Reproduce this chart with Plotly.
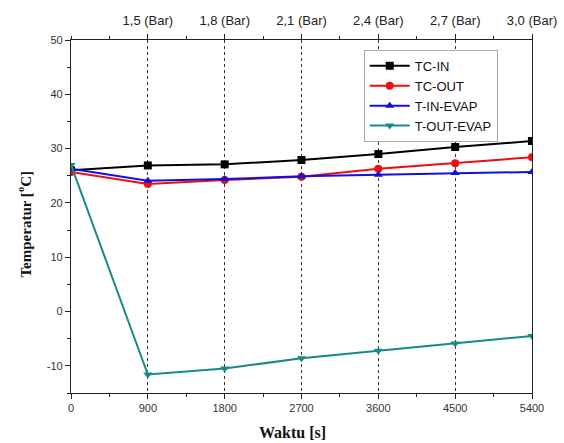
import plotly.graph_objects as go

time_s = [0, 900, 1800, 2700, 3600, 4500, 5400]
pressure_labels = ["1,5 (Bar)", "1,8 (Bar)", "2,1 (Bar)", "2,4 (Bar)", "2,7 (Bar)", "3,0 (Bar)"]
pressure_ticks = [900, 1800, 2700, 3600, 4500, 5400]
temp_ticks = [-10, 0, 10, 20, 30, 40, 50]
tc_in = [26.0, 26.9, 27.1, 27.9, 29.0, 30.3, 31.4]
tc_out = [25.7, 23.5, 24.2, 24.8, 26.3, 27.3, 28.4]
t_in_evap = [26.3, 24.1, 24.4, 24.9, 25.2, 25.5, 25.7]
t_out_evap = [27.0, -11.6, -10.5, -8.6, -7.2, -5.9, -4.5]

series = [
    ("TC-IN", tc_in, "#000000", "square"),
    ("TC-OUT", tc_out, "#e81010", "circle"),
    ("T-IN-EVAP", t_in_evap, "#1010e0", "triangle-up"),
    ("T-OUT-EVAP", t_out_evap, "#168a8a", "triangle-down"),
]

fig = go.Figure()
for name, ys, col, sym in series:
    fig.add_trace(go.Scatter(
        x=time_s, y=ys, name=name, mode="lines+markers",
        line=dict(color=col, width=2),
        marker=dict(symbol=sym, size=8, color=col),
    ))
fig.add_trace(go.Scatter(x=[0, 5400], y=[None, None], xaxis="x2", showlegend=False, hoverinfo="skip"))

serif = "Liberation Serif, Times New Roman, serif"
fig.update_layout(
    width=564, height=443,
    margin=dict(l=71, r=32, t=40, b=50),
    paper_bgcolor="white", plot_bgcolor="white",
    font=dict(family="Liberation Sans, Arial, sans-serif", color="#222"),
    xaxis=dict(
        range=[0, 5400], tickvals=time_s, ticktext=[str(t) for t in time_s],
        ticks="outside", ticklen=5, tickcolor="#222", automargin=False,
        minor=dict(ticks="outside", dtick=450, tick0=0, ticklen=3, tickcolor="#222", showgrid=False),
        showline=True, linecolor="#222", linewidth=1.2,
        showgrid=True, gridcolor="#333", griddash="dot", gridwidth=1,
        zeroline=False, tickfont=dict(size=11, color="#333"),
    ),
    xaxis2=dict(
        range=[0, 5400], overlaying="x", side="top", anchor="y", automargin=False,
        tickvals=pressure_ticks, ticktext=pressure_labels,
        ticks="outside", ticklen=5, tickcolor="#222", ticklabelstandoff=4,
        minor=dict(ticks="outside", dtick=450, tick0=0, ticklen=3, tickcolor="#222", showgrid=False),
        showline=True, linecolor="#222", linewidth=1.2, showgrid=False, zeroline=False,
        tickfont=dict(size=13, color="#222"),
    ),
    yaxis=dict(
        range=[-15, 50], tickvals=temp_ticks, ticktext=[str(t) for t in temp_ticks],
        ticks="outside", ticklen=5, tickcolor="#222", automargin=False,
        minor=dict(ticks="outside", dtick=5, tick0=0, ticklen=3, tickcolor="#222", showgrid=False),
        showline=True, linecolor="#222", linewidth=1.2, mirror=True,
        showgrid=False, zeroline=False, tickfont=dict(size=11, color="#333"),
    ),
    legend=dict(
        x=0.635, y=0.972, xanchor="left", yanchor="top",
        bgcolor="white", bordercolor="#aaa", borderwidth=1,
        font=dict(size=13, color="#111"), tracegroupgap=0, itemwidth=40,
    ),
    annotations=[
        dict(text="<b>Waktu [s]</b>", xref="paper", yref="paper", x=0.481, y=-0.111,
             xanchor="center", yanchor="middle", showarrow=False,
             font=dict(family=serif, size=16, color="#111")),
        dict(text="<b>Temperatur [<sup>o</sup>C]</b>", xref="paper", yref="paper", x=-0.102, y=0.48,
             xanchor="center", yanchor="middle", showarrow=False, textangle=-90,
             font=dict(family=serif, size=15, color="#111")),
    ],
)

fig.write_html("out.html", post_script="document.body.style.margin='0';",
               config={"displayModeBar": False})
